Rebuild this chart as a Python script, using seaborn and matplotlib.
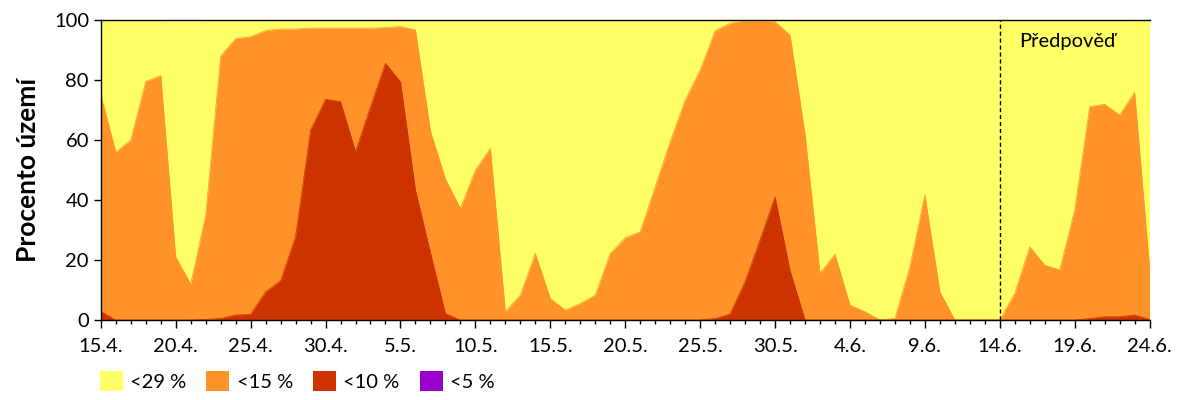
import numpy as np
import pandas as pd
import matplotlib.pyplot as plt
import seaborn as sns
from matplotlib.patches import Patch

# Données : pourcentage du territoire par classe, du 15.4. au 24.6.
dates = pd.date_range("2023-04-15", "2023-06-24", freq="D")

lt29 = [100, 100, 100, 100, 100, 99.5, 99.5, 100, 100, 100,
        100, 100, 100, 100, 100, 100, 100, 100, 100, 100,
        100, 100, 100, 100, 100, 100, 100, 100, 100, 100,
        100, 100, 100, 100, 100, 100, 100, 100, 100, 100,
        100, 100, 100, 100, 100, 100, 100, 100, 100, 100,
        100, 100, 100, 100, 100, 100, 100, 100, 100, 100,
        100, 100, 100, 100, 100, 100, 100, 100, 100, 100, 100]

lt15 = [75, 56, 60, 79.5, 81.5, 21, 12, 35, 88, 93.8,
        94.4, 96.5, 97, 97, 97.3, 97.3, 97.3, 97.3, 97.3, 97.5,
        97.8, 96.7, 63, 47, 37.2, 50, 57.2, 2.8, 8.3, 22.2,
        7.2, 3.3, 5.5, 8.3, 22.2, 27.4, 29.4, 44.4, 59.4, 73.3,
        83.3, 96.4, 98.9, 99.7, 99.7, 99.4, 95, 62, 15.6, 21.9,
        5, 2.8, 0, 0.5, 17.8, 41.7, 9.4, 0, 0, 0,
        0, 8.9, 24.4, 18.3, 16.7, 36.7, 71.1, 71.9, 68.3, 75.9, 17.2]

lt10 = [2.8, 0, 0, 0, 0, 0, 0, 0.2, 0.5, 1.7,
        1.9, 9.4, 13.1, 27.8, 63.3, 73.6, 72.8, 56.1, 71.1, 85.6,
        79.4, 43.3, 22.5, 2.2, 0, 0, 0, 0, 0, 0,
        0, 0, 0, 0, 0, 0, 0, 0, 0, 0,
        0, 0.5, 2, 12.8, 26.7, 41.1, 16.5, 0, 0, 0,
        0, 0, 0, 0, 0, 0, 0, 0, 0, 0,
        0, 0, 0, 0, 0, 0, 0.5, 1.1, 1.1, 1.7, 0.2]

lt5 = [0] * 71

classes = ["<29 %", "<15 %", "<10 %", "<5 %"]
couleurs = ["#FFFF66", "#FF9329", "#CC3300", "#9900CC"]

tick_labels = ["15.4.", "20.4.", "25.4.", "30.4.", "5.5.", "10.5.", "15.5.", "20.5.",
               "25.5.", "30.5.", "4.6.", "9.6.", "14.6.", "19.6.", "24.6."]
debut_prevision = 60  # 14.6.

df = pd.DataFrame({"jour": np.arange(len(dates)), "<29 %": lt29, "<15 %": lt15,
                   "<10 %": lt10, "<5 %": lt5})

sns.set_theme(style="ticks")
plt.rcParams['font.family'] = ['Lato', 'DejaVu Sans']
plt.rcParams.update({"text.color": "black", "axes.labelcolor": "black",
                     "xtick.color": "black", "ytick.color": "black"})

fig = plt.figure(figsize=(12, 4), dpi=100)
ax = fig.add_axes([0.084, 0.2, 0.874, 0.75])

# Les couches sont superposées (chaque classe est incluse dans la précédente)
for nom, coul in zip(classes, couleurs):
    ax.fill_between(df["jour"], 0, df[nom], color=coul, linewidth=0)
    sns.lineplot(x=df["jour"], y=df[nom], ax=ax, color=coul, linewidth=0.5)

ax.axvline(debut_prevision, color="black", linestyle=(0, (3, 2)), linewidth=1)
ax.text(debut_prevision + 1.3, 92.7, "Předpověď", fontsize=14.5, va="center", ha="left")

ax.set_xlim(0, 70)
ax.set_ylim(0, 100)
ax.set_xticks(np.arange(0, 71, 5))
ax.set_xticklabels(tick_labels, fontsize=14.5)
ax.set_xticks(np.arange(0, 71, 1), minor=True)
ax.set_yticks(np.arange(0, 101, 20))
ax.tick_params(axis="y", labelsize=14.5, length=5, width=1)
ax.tick_params(axis="x", which="major", length=6, width=1, pad=7)
ax.tick_params(axis="x", which="minor", length=3, width=1)
ax.set_xlabel("")
ax.set_ylabel("Procento území", fontsize=19, fontweight="bold", labelpad=10)

for side in ["left", "bottom", "top"]:
    ax.spines[side].set_color("black")
    ax.spines[side].set_linewidth(1)
ax.spines["right"].set_visible(False)

handles = [Patch(facecolor=c, edgecolor="none") for c in couleurs]
fig.legend(handles, classes, loc="lower left", bbox_to_anchor=(0.068, -0.022), ncol=4,
           frameon=False, fontsize=14.5, handlelength=1.15, handleheight=1.15,
           handletextpad=0.35, columnspacing=1.0)

plt.savefig("out.png", dpi=100)
plt.close()
